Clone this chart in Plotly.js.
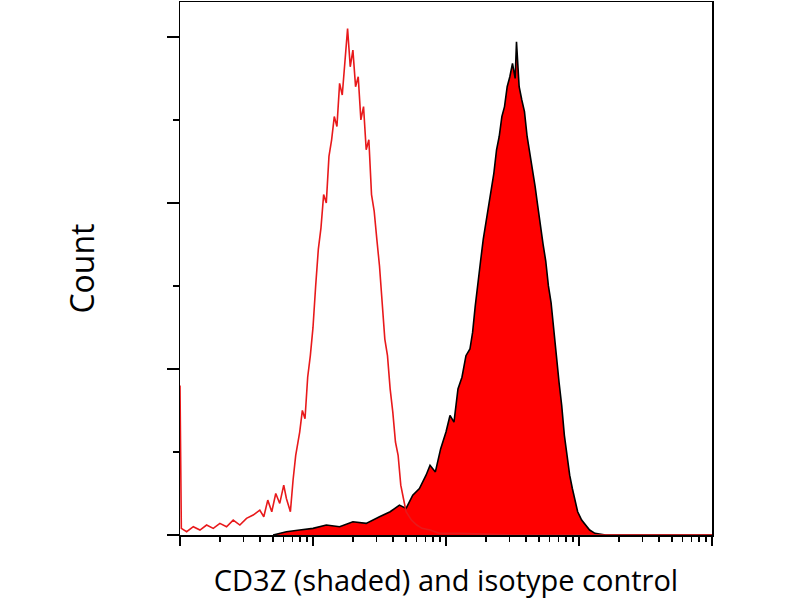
<!DOCTYPE html>
<html>
<head>
<meta charset="utf-8">
<script src="https://cdn.plot.ly/plotly-3.0.1.min.js"></script>
<style>body{margin:0;background:#fff}#chart{width:800px;height:600px}</style>
</head>
<body>
<div id="chart"></div>
<script>
// channel positions in decades (log10 of fluorescence)
const isoLog = [0, 0.01, 0.05, 0.1, 0.15, 0.2, 0.25, 0.3, 0.35, 0.4, 0.45, 0.5, 0.55, 0.6, 0.63, 0.66, 0.69, 0.72, 0.75, 0.78, 0.8, 0.83, 0.85, 0.87, 0.9, 0.92, 0.94, 0.96, 0.98, 1.0, 1.02, 1.04, 1.06, 1.08, 1.1, 1.12, 1.14, 1.16, 1.18, 1.2, 1.22, 1.24, 1.26, 1.28, 1.3, 1.32, 1.34, 1.36, 1.38, 1.4, 1.42, 1.44, 1.46, 1.48, 1.5, 1.52, 1.54, 1.56, 1.58, 1.6, 1.62, 1.64, 1.66, 1.68, 1.7, 1.74, 1.78, 1.82, 1.88, 1.95, 2.1, 2.5, 3.0, 4.0];
const isoCount = [90, 4, 2, 5, 3, 6, 4, 7, 5, 9, 6, 10, 12, 15, 11, 21, 14, 25, 19, 30, 22, 14, 33, 48, 62, 75, 70, 95, 108, 125, 150, 172, 185, 205, 200, 228, 238, 252, 246, 272, 265, 288, 305, 282, 292, 270, 276, 250, 258, 232, 238, 205, 195, 178, 162, 140, 118, 108, 88, 74, 56, 48, 30, 22, 14, 9, 6, 4, 3, 1, 1, 0, 0, 0];

const cdLog = [0.7, 0.8, 0.9, 1.0, 1.1, 1.2, 1.3, 1.4, 1.5, 1.58, 1.65, 1.7, 1.75, 1.8, 1.85, 1.88, 1.92, 1.96, 2.0, 2.03, 2.06, 2.09, 2.12, 2.15, 2.18, 2.2, 2.22, 2.24, 2.26, 2.28, 2.3, 2.32, 2.34, 2.36, 2.38, 2.4, 2.42, 2.44, 2.46, 2.48, 2.5, 2.52, 2.53, 2.55, 2.57, 2.59, 2.61, 2.63, 2.65, 2.67, 2.69, 2.71, 2.73, 2.75, 2.77, 2.79, 2.81, 2.83, 2.85, 2.87, 2.89, 2.91, 2.93, 2.95, 2.97, 2.99, 3.02, 3.05, 3.08, 3.12, 3.2, 3.5, 4.0];
const cdCount = [0, 2, 3, 4, 6, 5, 8, 7, 11, 14, 18, 16, 24, 28, 36, 42, 38, 52, 62, 72, 68, 88, 95, 108, 112, 122, 138, 150, 165, 178, 188, 200, 210, 218, 232, 240, 252, 258, 270, 276, 284, 275, 297, 270, 262, 255, 240, 230, 222, 210, 198, 185, 175, 165, 150, 140, 122, 108, 92, 78, 60, 48, 36, 28, 20, 14, 9, 6, 3, 1, 0, 0, 0];

const xTicks = [1, 10, 100, 1000, 10000];
const yTicks = [0, 100, 200, 300];

const minorX = [];
for (const d of [1, 10, 100, 1000]) for (let k = 2; k <= 9; k++) minorX.push(d * k);

Plotly.newPlot('chart', [
  {
    x: cdLog.map(v => Math.pow(10, v)), y: cdCount,
    type: 'scatter', mode: 'lines', fill: 'tozeroy',
    fillcolor: '#ff0000', line: {color: '#000', width: 1.6}, hoverinfo: 'skip'
  },
  {
    x: isoLog.map(v => Math.pow(10, v)), y: isoCount,
    type: 'scatter', mode: 'lines',
    line: {color: '#e8191b', width: 1.6}, hoverinfo: 'skip'
  }
], {
  width: 800, height: 600,
  margin: {l: 180, r: 88, t: 2, b: 65},
  showlegend: false,
  paper_bgcolor: '#fff', plot_bgcolor: '#fff',
  font: {family: 'Open Sans, sans-serif', color: '#000'},
  xaxis: {
    type: 'log', range: [0, 4], tickvals: xTicks, showticklabels: false,
    ticks: 'outside', ticklen: 9, tickwidth: 2, tickcolor: '#000',
    minor: {tickvals: minorX, ticks: 'outside', ticklen: 5, tickwidth: 1.5, tickcolor: '#000'},
    showline: true, mirror: true, linecolor: '#000', linewidth: 1.5,
    showgrid: false, zeroline: false,
    title: {text: 'CD3Z (shaded) and isotype control', font: {size: 29}, standoff: 26}
  },
  yaxis: {
    range: [0, 321], tickvals: yTicks, showticklabels: false,
    ticks: 'outside', ticklen: 12, tickwidth: 2, tickcolor: '#000',
    minor: {dtick: 50, ticks: 'outside', ticklen: 6, tickwidth: 1.5, tickcolor: '#000'},
    showline: true, mirror: true, linecolor: '#000', linewidth: 1.5,
    showgrid: false, zeroline: false,
    title: {text: 'Count', font: {size: 32}, standoff: 62}
  }
}, {staticPlot: true});
</script>
</body>
</html>
